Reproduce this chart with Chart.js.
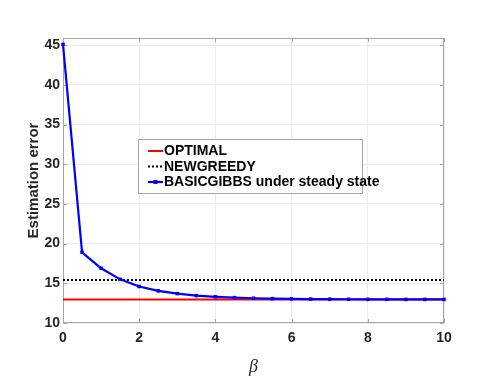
<!DOCTYPE html>
<html>
<head>
<meta charset="utf-8">
<script src="https://cdn.jsdelivr.net/npm/chart.js@4.4.1/dist/chart.umd.min.js"></script>
<style>
  html, body { margin: 0; padding: 0; background: #fff; }
  #wrap { width: 491px; height: 382px; }
</style>
</head>
<body>
<div id="wrap"><canvas id="errChart" width="491" height="382"></canvas></div>
<script>
// data
const betas = [0, 0.5, 1, 1.5, 2, 2.5, 3, 3.5, 4, 4.5, 5, 5.5, 6, 6.5, 7, 7.5, 8, 8.5, 9, 9.5, 10]
const basicGibbs = [45.1, 18.9, 16.9, 15.5, 14.6, 14.05, 13.7, 13.45, 13.3, 13.2, 13.12, 13.07, 13.04, 13.02, 13.0, 12.99, 12.98, 12.98, 12.97, 12.97, 12.97]
const optimalLevel = [12.97, 12.97]
const newGreedyLevel = [15.42, 15.42]
const levelX = [0, 10]
const xTicks = [0, 2, 4, 6, 8, 10]
const yTicks = [10, 15, 20, 25, 30, 35, 40, 45]
const seriesNames = ["OPTIMAL", "NEWGREEDY", "BASICGIBBS under steady state"]

const tickFont = { family: "Liberation Sans", size: 14, weight: "bold" }

// matlab style box + inward ticks
const boxFrame = {
    id: 'boxFrame',
    beforeDatasetsDraw(chart) {
        const { ctx, chartArea: { left, right, top, bottom }, scales: { x, y } } = chart
        ctx.save()
        ctx.strokeStyle = '#a6a6a6'
        ctx.lineWidth = 1
        ctx.strokeRect(left + 0.5, top + 0.5, right - left - 1, bottom - top - 1)
        ctx.beginPath()
        xTicks.forEach(v => {
            const px = Math.round(x.getPixelForValue(v)) + 0.5
            ctx.moveTo(px, bottom); ctx.lineTo(px, bottom - 4)
            ctx.moveTo(px, top); ctx.lineTo(px, top + 4)
        })
        yTicks.forEach(v => {
            const py = Math.round(y.getPixelForValue(v)) + 0.5
            ctx.moveTo(left, py); ctx.lineTo(left + 4, py)
            ctx.moveTo(right, py); ctx.lineTo(right - 4, py)
        })
        ctx.stroke()
        ctx.restore()
    }
}

// legend box inside the axes
const boxLegend = {
    id: 'boxLegend',
    afterDraw(chart) {
        const { ctx } = chart
        const bx = 138, by = 139, bw = 224, bh = 54
        ctx.save()
        ctx.fillStyle = '#fff'
        ctx.fillRect(bx, by, bw, bh)
        ctx.strokeStyle = '#a6a6a6'
        ctx.lineWidth = 1
        ctx.strokeRect(bx + 0.5, by + 0.5, bw, bh)
        ctx.font = "bold 14px 'Liberation Sans'"
        ctx.textBaseline = 'middle'
        chart.data.datasets.forEach((ds, i) => {
            const ry = by + 12 + i * 15.5
            ctx.strokeStyle = ds.borderColor
            ctx.lineWidth = ds.borderWidth
            ctx.setLineDash(ds.borderDash || [])
            ctx.beginPath()
            ctx.moveTo(bx + 10, ry); ctx.lineTo(bx + 25, ry)
            ctx.stroke()
            ctx.setLineDash([])
            if (ds.pointRadius) {
                ctx.fillStyle = ds.borderColor
                ctx.fillRect(bx + 17.5 - 2, ry - 2, 4, 4)
            }
            ctx.fillStyle = '#000'
            ctx.fillText(ds.label, bx + 26, ry + 0.5)
        })
        ctx.restore()
    }
}

const config = {
    type: 'line',
    data: {
        datasets: [
            {
                label: seriesNames[0],
                data: levelX.map((v, i) => ({ x: v, y: optimalLevel[i] })),
                borderColor: '#ff0000',
                borderWidth: 2,
                pointRadius: 0,
                order: 2
            },
            {
                label: seriesNames[1],
                data: levelX.map((v, i) => ({ x: v, y: newGreedyLevel[i] })),
                borderColor: '#000000',
                borderWidth: 2,
                borderDash: [2, 2],
                pointRadius: 0,
                order: 1
            },
            {
                label: seriesNames[2],
                data: betas.map((v, i) => ({ x: v, y: basicGibbs[i] })),
                borderColor: '#0000ff',
                backgroundColor: '#0000ff',
                borderWidth: 2.2,
                pointStyle: 'rect',
                pointRadius: 2.5,
                pointBorderWidth: 0,
                clip: false,
                order: 0
            }
        ]
    },
    options: {
        responsive: false,
        animation: false,
        layout: { padding: { left: 0, top: 38, right: 47, bottom: 0 } },
        plugins: {
            legend: { display: false },
            tooltip: { enabled: false }
        },
        scales: {
            x: {
                type: 'linear',
                min: 0,
                max: 10,
                afterBuildTicks: s => { s.ticks = xTicks.map(v => ({ value: v })) },
                afterFit: s => { s.height = 59 },
                ticks: { font: tickFont, color: '#262626', padding: 7 },
                grid: { color: '#ececec', drawTicks: false },
                border: { display: false },
                title: {
                    display: true,
                    text: 'β',
                    font: { family: "Liberation Serif", size: 18, style: 'italic' },
                    color: '#262626',
                    padding: { top: 0, bottom: 4 }
                }
            },
            y: {
                min: 10,
                max: 45.9,
                afterBuildTicks: s => { s.ticks = yTicks.map(v => ({ value: v })) },
                afterFit: s => { s.width = 63 },
                ticks: { font: tickFont, color: '#262626', padding: 3 },
                grid: { color: '#ececec', drawTicks: false },
                border: { display: false },
                title: {
                    display: true,
                    text: 'Estimation error',
                    font: { family: "Liberation Sans", size: 15, weight: 'bold' },
                    color: '#262626',
                    padding: { top: 25, bottom: 0 }
                }
            }
        }
    },
    plugins: [boxFrame, boxLegend]
}

new Chart(document.getElementById('errChart'), config)
</script>
</body>
</html>
